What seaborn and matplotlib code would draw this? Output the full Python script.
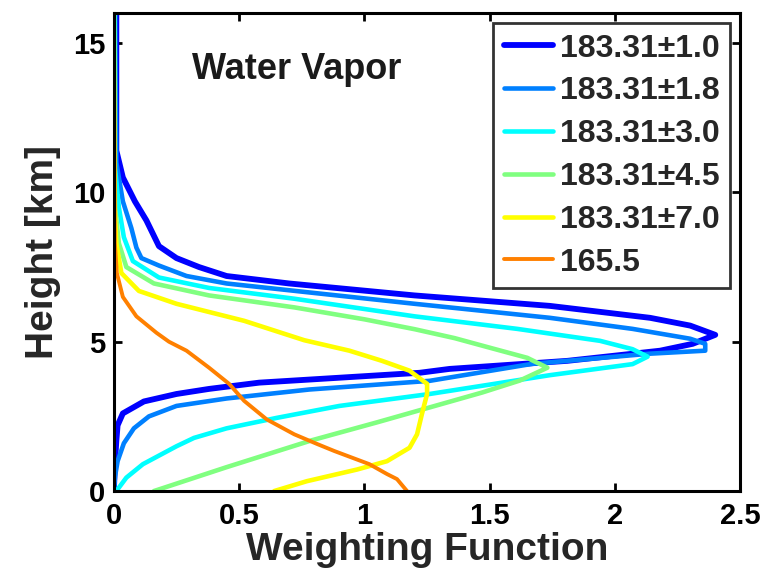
import matplotlib
matplotlib.use("Agg")
import matplotlib.pyplot as plt
import seaborn as sns
import pandas as pd

# ---- data (weighting function value, height in km) ----
labels = ["183.31±1.0", "183.31±1.8", "183.31±3.0", "183.31±4.5", "183.31±7.0", "165.5"]
colors = ["#0000FF", "#0080FF", "#00FFFF", "#80FF80", "#FFFF00", "#FF8000"]

h_10 = [16, 11.4, 10.5, 9.7, 9.06, 8.2, 7.8, 7.5, 7.2, 6.95, 6.55, 6.2, 5.8, 5.54, 5.23,
        4.93, 4.7, 4.36, 4.09, 3.96, 3.8, 3.63, 3.42, 3.25, 3.0, 2.6, 2.2, 1.68, 1.0, 0]
w_10 = [0.01, 0.01, 0.036, 0.084, 0.13, 0.18, 0.25, 0.34, 0.45, 0.70, 1.20, 1.74, 2.14, 2.30, 2.40,
        2.31, 2.18, 1.81, 1.34, 1.22, 0.91, 0.58, 0.38, 0.25, 0.12, 0.036, 0.015, 0.01, 0.005, 0.0]

h_18 = [16, 11.0, 9.7, 8.8, 8.15, 7.8, 7.55, 7.2, 6.95, 6.65, 6.27, 5.8, 5.43, 5.1, 4.93,
        4.7, 4.6, 4.26, 3.69, 3.4, 3.1, 2.85, 2.5, 2.1, 1.6, 1.0, 0.5, 0]
w_18 = [0.005, 0.01, 0.036, 0.07, 0.09, 0.11, 0.18, 0.29, 0.45, 0.78, 1.2, 1.74, 2.07, 2.30, 2.36,
        2.36, 2.14, 1.67, 1.26, 0.78, 0.45, 0.25, 0.14, 0.08, 0.04, 0.015, 0.005, 0.0]

h_30 = [16, 10.8, 9.5, 8.5, 7.7, 7.15, 6.8, 6.44, 5.85, 5.43, 5.03, 4.75, 4.5, 4.25,
        3.88, 3.25, 2.85, 2.45, 2.1, 1.78, 1.5, 0.9, 0.45, 0]
w_30 = [0.003, 0.005, 0.02, 0.04, 0.076, 0.18, 0.38, 0.72, 1.2, 1.61, 1.94, 2.07, 2.13, 2.07,
        1.74, 1.26, 0.9, 0.65, 0.45, 0.32, 0.25, 0.116, 0.05, 0.01]

h_45 = [16, 10.8, 9.5, 8.3, 7.5, 6.95, 6.55, 6.15, 5.75, 5.42, 5.12, 4.8, 4.46, 4.13,
        3.7, 3.3, 2.8, 2.3, 1.7, 0.8, 0]
w_45 = [0.0, 0.002, 0.005, 0.02, 0.05, 0.16, 0.38, 0.72, 1.0, 1.2, 1.36, 1.5, 1.65, 1.73,
        1.62, 1.47, 1.26, 1.05, 0.79, 0.45, 0.16]

h_70 = [16, 9.5, 8.3, 7.3, 6.7, 6.27, 5.7, 5.05, 4.7, 4.36, 4.03, 3.59, 3.25,
        2.6, 1.9, 1.45, 1.0, 0.72, 0.33, 0]
w_70 = [0.0, 0.003, 0.01, 0.03, 0.10, 0.25, 0.52, 0.76, 0.94, 1.07, 1.18, 1.25, 1.25,
        1.23, 1.21, 1.18, 1.09, 0.97, 0.77, 0.64]

h_165 = [16, 8.3, 7.3, 6.5, 5.85, 5.3, 5.0, 4.7, 4.13, 3.59, 3.02, 2.4, 1.9, 1.58,
         1.34, 0.9, 0.57, 0.4, 0]
w_165 = [0.0, 0.004, 0.012, 0.036, 0.09, 0.17, 0.22, 0.29, 0.38, 0.46, 0.52, 0.61, 0.72, 0.81,
         0.88, 1.02, 1.09, 1.13, 1.17]

heights = [h_10, h_18, h_30, h_45, h_70, h_165]
weights = [w_10, w_18, w_30, w_45, w_70, w_165]
linewidths = [4.2, 3.3, 3.3, 3.3, 3.3, 2.8]

x_ticks = [0, 0.5, 1, 1.5, 2, 2.5]
x_ticklabels = ["0", "0.5", "1", "1.5", "2", "2.5"]
y_ticks = [0, 5, 10, 15]

# ---- plotting ----
sns.set_style("ticks")
plt.rcParams["font.family"] = ["Liberation Sans", "DejaVu Sans"]
plt.rcParams["font.weight"] = "bold"

fig = plt.figure(figsize=(7.64, 5.73), dpi=100)
ax = fig.add_axes([0.149, 0.143, 0.820, 0.834])

for lab, col, lw, hh, ww in zip(labels, colors, linewidths, heights, weights):
    df = pd.DataFrame({"weight": ww, "height": hh})
    sns.lineplot(data=df, x="weight", y="height", sort=False, estimator=None,
                 color=col, lw=lw, label=lab, ax=ax)

ax.set_xlim(0, 2.5)
ax.set_ylim(0, 16)
ax.set_xticks(x_ticks)
ax.set_xticklabels(x_ticklabels)
ax.set_yticks(y_ticks)

for s in ax.spines.values():
    s.set_linewidth(2.2)
    s.set_color("black")
    s.set_visible(True)

ax.tick_params(axis="both", which="both", direction="in", length=6, width=2,
               top=True, right=True, labelsize=21, colors="black")
ax.tick_params(axis="x", pad=8)
ax.tick_params(axis="y", pad=6)
for t in ax.get_xticklabels() + ax.get_yticklabels():
    t.set_fontweight("bold")

ax.set_xlabel("Weighting Function", fontsize=28, fontweight="bold", labelpad=1)
ax.set_ylabel("Height [km]", fontsize=28, fontweight="bold", labelpad=9)

ax.text(0.73, 14.1, "Water Vapor", fontsize=26, fontweight="bold", ha="center",
        va="center", color="#1a1a1a")

leg = ax.legend(loc="upper right", fontsize=23, frameon=True, fancybox=False,
                handlelength=1.55, handletextpad=0.22, labelspacing=0.40,
                borderaxespad=0.32, borderpad=0.32, edgecolor="black")
leg.get_frame().set_linewidth(2.0)
for t in leg.get_texts():
    t.set_fontweight("bold")

fig.savefig("out.png", dpi=100)
